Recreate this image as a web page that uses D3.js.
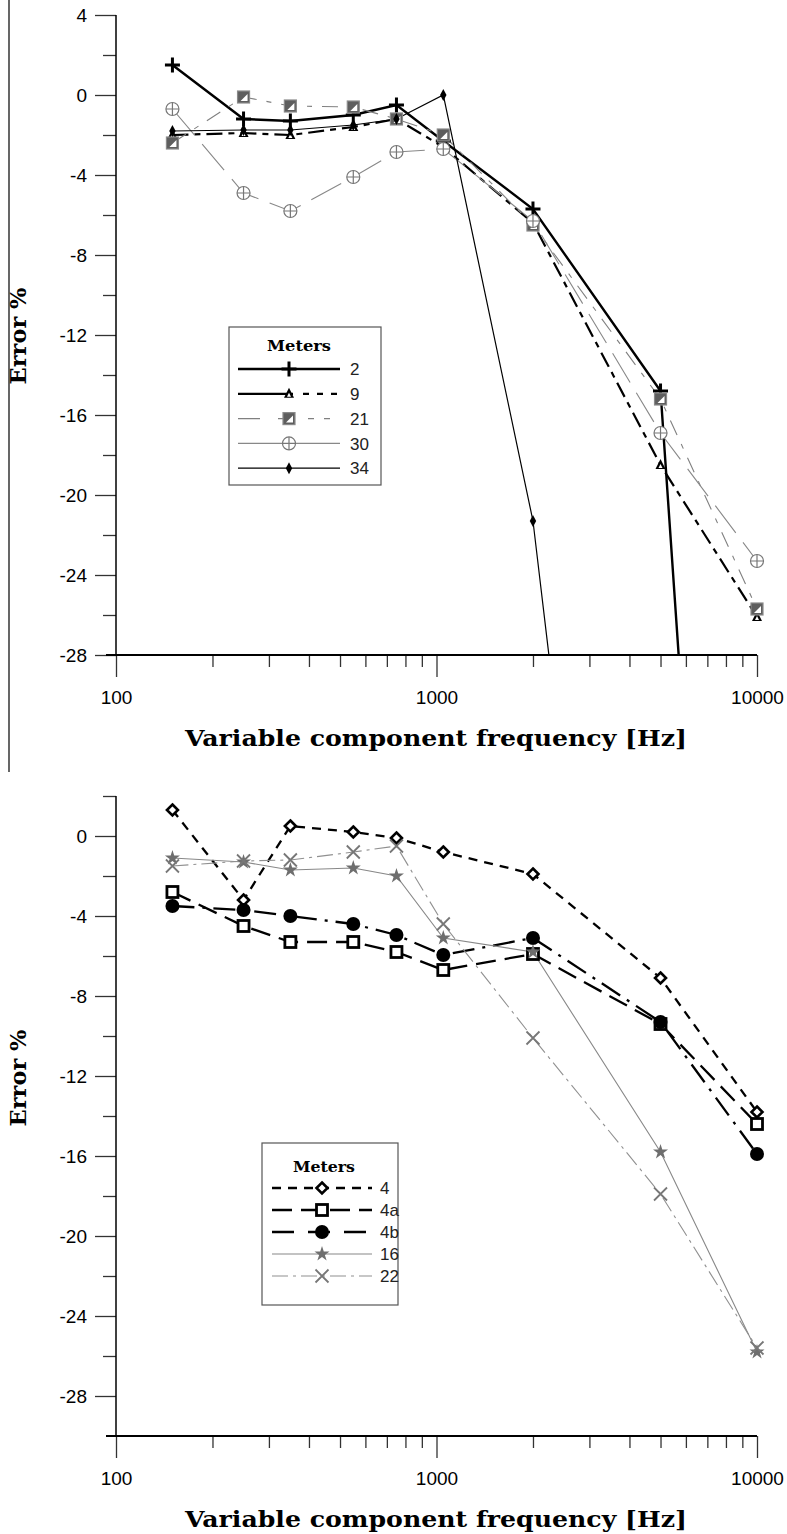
<!DOCTYPE html>
<html><head><meta charset="utf-8">
<script src="https://cdn.jsdelivr.net/npm/d3@7"></script>
<style>body{margin:0;background:#fff}svg{display:block}</style>
</head><body>
<svg id="c" width="787" height="1534"></svg>
<script>
// ---- data ----
const freqs = [150, 250, 350, 550, 750, 1050, 2000, 5000, 10000];
const freqs34 = [150, 250, 350, 550, 750, 1050, 2000, 5000];
// top chart (Meters 2, 9, 21, 30, 34)
const m2  = [1.5, -1.2, -1.3, -1.0, -0.5, -2.3, -5.7, -14.8, -85];
const m9  = [-2.0, -1.9, -2.0, -1.6, -1.2, -2.6, -6.4, -18.5, -26.1];
const m21 = [-2.4, -0.1, -0.55, -0.6, -1.2, -2.0, -6.5, -15.2, -25.7];
const m30 = [-0.7, -4.9, -5.8, -4.1, -2.85, -2.7, -6.3, -16.9, -23.3];
const m34 = [-1.8, -1.75, -1.75, -1.5, -1.2, 0.0, -21.3, -75];
// bottom chart (Meters 4, 4a, 4b, 16, 22)
const m4  = [1.3, -3.2, 0.5, 0.2, -0.1, -0.8, -1.9, -7.1, -13.8];
const m4a = [-2.8, -4.5, -5.3, -5.3, -5.8, -6.7, -5.9, -9.4, -14.4];
const m4b = [-3.5, -3.7, -4.0, -4.4, -4.95, -5.95, -5.1, -9.3, -15.9];
const m16 = [-1.1, -1.3, -1.7, -1.6, -2.0, -5.1, -5.8, -15.8, -25.8];
const m22 = [-1.5, -1.25, -1.2, -0.8, -0.5, -4.4, -10.1, -17.9, -25.6];
const topLabels = ["2", "9", "21", "30", "34"];
const botLabels = ["4", "4a", "4b", "16", "22"];
const xMajor = [100, 1000, 10000];
const xMinor = [200,300,400,500,600,700,800,900,2000,3000,4000,5000,6000,7000,8000,9000];
const topYMajor = [4, 0, -4, -8, -12, -16, -20, -24, -28];
const topYMinor = [2, -2, -6, -10, -14, -18, -22, -26];
const botYMajor = [0, -4, -8, -12, -16, -20, -24, -28];
const botYMinor = [2, -2, -6, -10, -14, -18, -22, -26];

const svg = d3.select("#c");
const SANS = "'Liberation Sans', Arial, sans-serif";
const SERIF = "'DejaVu Serif', serif";

function marker(g, type, x, y) {
  const m = g.append("g").attr("transform", `translate(${x},${y})`);
  switch (type) {
    case "plus":
      m.append("path").attr("d", "M-7.5,0H7.5M0,-7.5V7.5").attr("stroke", "#000").attr("stroke-width", 3).attr("fill", "none"); break;
    case "tri":
      m.append("path").attr("d", "M0,-6L5,4L-5,4Z").attr("fill", "#000");
      m.append("path").attr("d", "M0,-1L2,3L-2,3Z").attr("fill", "#fff"); break;
    case "sqtri":
      m.append("rect").attr("x", -6).attr("y", -6).attr("width", 12).attr("height", 12).attr("fill", "#5e5e5e").attr("stroke", "#8a8a8a").attr("stroke-width", 1.2);
      m.append("path").attr("d", "M-3,4L4,4L4,-3Z").attr("fill", "#fff"); break;
    case "circplus":
      m.append("circle").attr("r", 6.5).attr("fill", "#fff").attr("stroke", "#777").attr("stroke-width", 1.2);
      m.append("path").attr("d", "M-6.5,0H6.5M0,-6.5V6.5").attr("stroke", "#777").attr("stroke-width", 1.2); break;
    case "dia":
      m.append("path").attr("d", "M0,-6L3.2,0L0,6L-3.2,0Z").attr("fill", "#000"); break;
    case "diaOpen":
      m.append("path").attr("d", "M0,-5.5L5.5,0L0,5.5L-5.5,0Z").attr("fill", "#fff").attr("stroke", "#000").attr("stroke-width", 2.6); break;
    case "sqOpen":
      m.append("rect").attr("x", -5.5).attr("y", -5.5).attr("width", 11).attr("height", 11).attr("fill", "#fff").attr("stroke", "#000").attr("stroke-width", 2.8); break;
    case "dot":
      m.append("circle").attr("r", 7).attr("fill", "#000"); break;
    case "star":
      m.append("path").attr("d", d3.symbol(d3.symbolStar, 70)()).attr("fill", "#6e6e6e"); break;
    case "x":
      m.append("path").attr("d", "M-6.5,-6.5L6.5,6.5M-6.5,6.5L6.5,-6.5").attr("stroke", "#777").attr("stroke-width", 1.8); break;
  }
}

function chart(cfg) {
  const x = d3.scaleLog().domain([100, 10000]).range([116, 757]);
  const y = d3.scaleLinear().domain(cfg.yDomain).range(cfg.yRange);
  const g = svg.append("g");
  const clipId = "clip" + cfg.id;
  svg.append("clipPath").attr("id", clipId).append("rect")
    .attr("x", 100).attr("y", cfg.yRange[0] - 10).attr("width", 680).attr("height", cfg.yRange[1] - cfg.yRange[0] + 10);

  // y axis
  const ya = g.append("g").attr("transform", "translate(116,0)");
  ya.call(d3.axisLeft(y).tickValues(cfg.yMajor).tickSize(21).tickPadding(8).tickFormat(d => String(d)));
  ya.append("g").call(d3.axisLeft(y).tickValues(cfg.yMinor).tickSize(13).tickFormat(""));
  ya.selectAll(".domain").remove();
  ya.selectAll("line").attr("stroke", "#333").attr("stroke-width", 1.3);
  ya.selectAll("text").attr("font-family", SANS).attr("font-size", 19).attr("fill", "#000");
  g.append("line").attr("x1", 116).attr("x2", 116).attr("y1", cfg.yRange[0]).attr("y2", cfg.yRange[1])
    .attr("stroke", "#000").attr("stroke-width", 1.5);

  // x axis
  const xy = cfg.xAxisY;
  const xa = g.append("g").attr("transform", `translate(0,${xy})`);
  xa.call(d3.axisBottom(x).tickValues(xMajor).tickSize(22).tickPadding(14).tickFormat(d => String(d)));
  xa.append("g").call(d3.axisBottom(x).tickValues(xMinor).tickSize(12).tickFormat(""));
  xa.selectAll(".domain").remove();
  xa.selectAll("line").attr("stroke", "#333").attr("stroke-width", 1.3);
  xa.selectAll("text").attr("font-family", SANS).attr("font-size", 19).attr("fill", "#000");
  g.append("line").attr("x1", 106).attr("x2", 757).attr("y1", xy).attr("y2", xy)
    .attr("stroke", "#000").attr("stroke-width", 1.8);

  // titles
  g.append("text").attr("x", 436).attr("y", xy + 91).attr("text-anchor", "middle")
    .attr("font-family", SERIF).attr("font-weight", "bold").attr("font-size", 22)
    .attr("textLength", 502).attr("lengthAdjust", "spacingAndGlyphs")
    .text("Variable component frequency [Hz]");
  g.append("text").attr("transform", `translate(26,${cfg.yTitleY}) rotate(-90)`).attr("text-anchor", "middle")
    .attr("font-family", SERIF).attr("font-weight", "bold").attr("font-size", 22)
    .attr("textLength", 97).attr("lengthAdjust", "spacingAndGlyphs")
    .text("Error %");

  // series
  const plot = g.append("g").attr("clip-path", `url(#${clipId})`);
  const line = d3.line().x(d => x(d[0])).y(d => y(d[1]));
  cfg.series.forEach(s => {
    const pts = s.xs.map((f, i) => [f, s.vals[i]]);
    plot.append("path").datum(pts).attr("d", line).attr("fill", "none")
      .attr("stroke", s.color).attr("stroke-width", s.width)
      .attr("stroke-dasharray", s.dash || null);
  });
  cfg.series.forEach(s => {
    s.xs.forEach((f, i) => { if (s.vals[i] >= cfg.yDomain[1]) marker(plot, s.marker, x(f), y(s.vals[i])); });
  });

  // legend
  const L = cfg.legend;
  const lg = g.append("g");
  lg.append("rect").attr("x", L.x).attr("y", L.y).attr("width", L.w).attr("height", L.h)
    .attr("fill", "#fff").attr("stroke", "#555").attr("stroke-width", 1.2);
  lg.append("text").attr("x", L.x + L.w / 2 - 6).attr("y", L.titleY).attr("text-anchor", "middle")
    .attr("font-family", SERIF).attr("font-weight", "bold").attr("font-size", 15)
    .attr("textLength", L.titleLen).attr("lengthAdjust", "spacingAndGlyphs").text("Meters");
  cfg.series.forEach((s, i) => {
    const yy = L.firstY + i * L.step;
    lg.append("line").attr("x1", L.lx1).attr("x2", L.lx2).attr("y1", yy).attr("y2", yy)
      .attr("stroke", s.color).attr("stroke-width", s.width).attr("stroke-dasharray", s.legendDash || s.dash || null);
    marker(lg, s.marker, (L.lx1 + L.lx2) / 2, yy);
    lg.append("text").attr("x", L.tx).attr("y", yy).attr("dy", "0.36em")
      .attr("font-family", SANS).attr("font-size", 17).attr("fill", "#222").text(s.label);
  });
}

// left border line of the upper figure
svg.append("line").attr("x1", 9).attr("x2", 9).attr("y1", 0).attr("y2", 772).attr("stroke", "#000").attr("stroke-width", 1.2);

chart({
  id: "top", yDomain: [4, -28], yRange: [15, 655], xAxisY: 655, yTitleY: 336,
  yMajor: topYMajor, yMinor: topYMinor,
  series: [
    { label: topLabels[0], xs: freqs, vals: m2, color: "#000", width: 2.4, marker: "plus" },
    { label: topLabels[1], xs: freqs, vals: m9, color: "#000", width: 2.2, dash: "16,6,6,6", legendDash: "0,0,55,10,6,8,6,8,6,8,6", marker: "tri" },
    { label: topLabels[2], xs: freqs, vals: m21, color: "#808080", width: 1.1, dash: "16,10,5,10", legendDash: "22,18,14,16,6,10,6,10", marker: "sqtri" },
    { label: topLabels[3], xs: freqs, vals: m30, color: "#888", width: 1.1, dash: "34,12", legendDash: "45,12,45", marker: "circplus" },
    { label: topLabels[4], xs: freqs34, vals: m34, color: "#000", width: 1.2, marker: "dia" }
  ],
  legend: { x: 229, y: 327, w: 152, h: 158, titleY: 351, titleLen: 64, firstY: 369, step: 24.8, lx1: 238, lx2: 340, tx: 350 }
});

chart({
  id: "bot", yDomain: [2, -30], yRange: [796, 1436], xAxisY: 1436, yTitleY: 1078,
  yMajor: botYMajor, yMinor: botYMinor,
  series: [
    { label: botLabels[0], xs: freqs, vals: m4, color: "#000", width: 2.3, dash: "9,7", marker: "diaOpen" },
    { label: botLabels[1], xs: freqs, vals: m4a, color: "#000", width: 2.3, dash: "20,9", marker: "sqOpen" },
    { label: botLabels[2], xs: freqs, vals: m4b, color: "#000", width: 2.3, dash: "22,8,3,8", legendDash: "22,14", marker: "dot" },
    { label: botLabels[3], xs: freqs, vals: m16, color: "#888", width: 1.1, marker: "star" },
    { label: botLabels[4], xs: freqs, vals: m22, color: "#909090", width: 1.1, dash: "16,5,3,5", marker: "x" }
  ],
  legend: { x: 262, y: 1143, w: 136, h: 162, titleY: 1172, titleLen: 62, firstY: 1188, step: 22, lx1: 272, lx2: 372, tx: 380 }
});
</script>
</body></html>
